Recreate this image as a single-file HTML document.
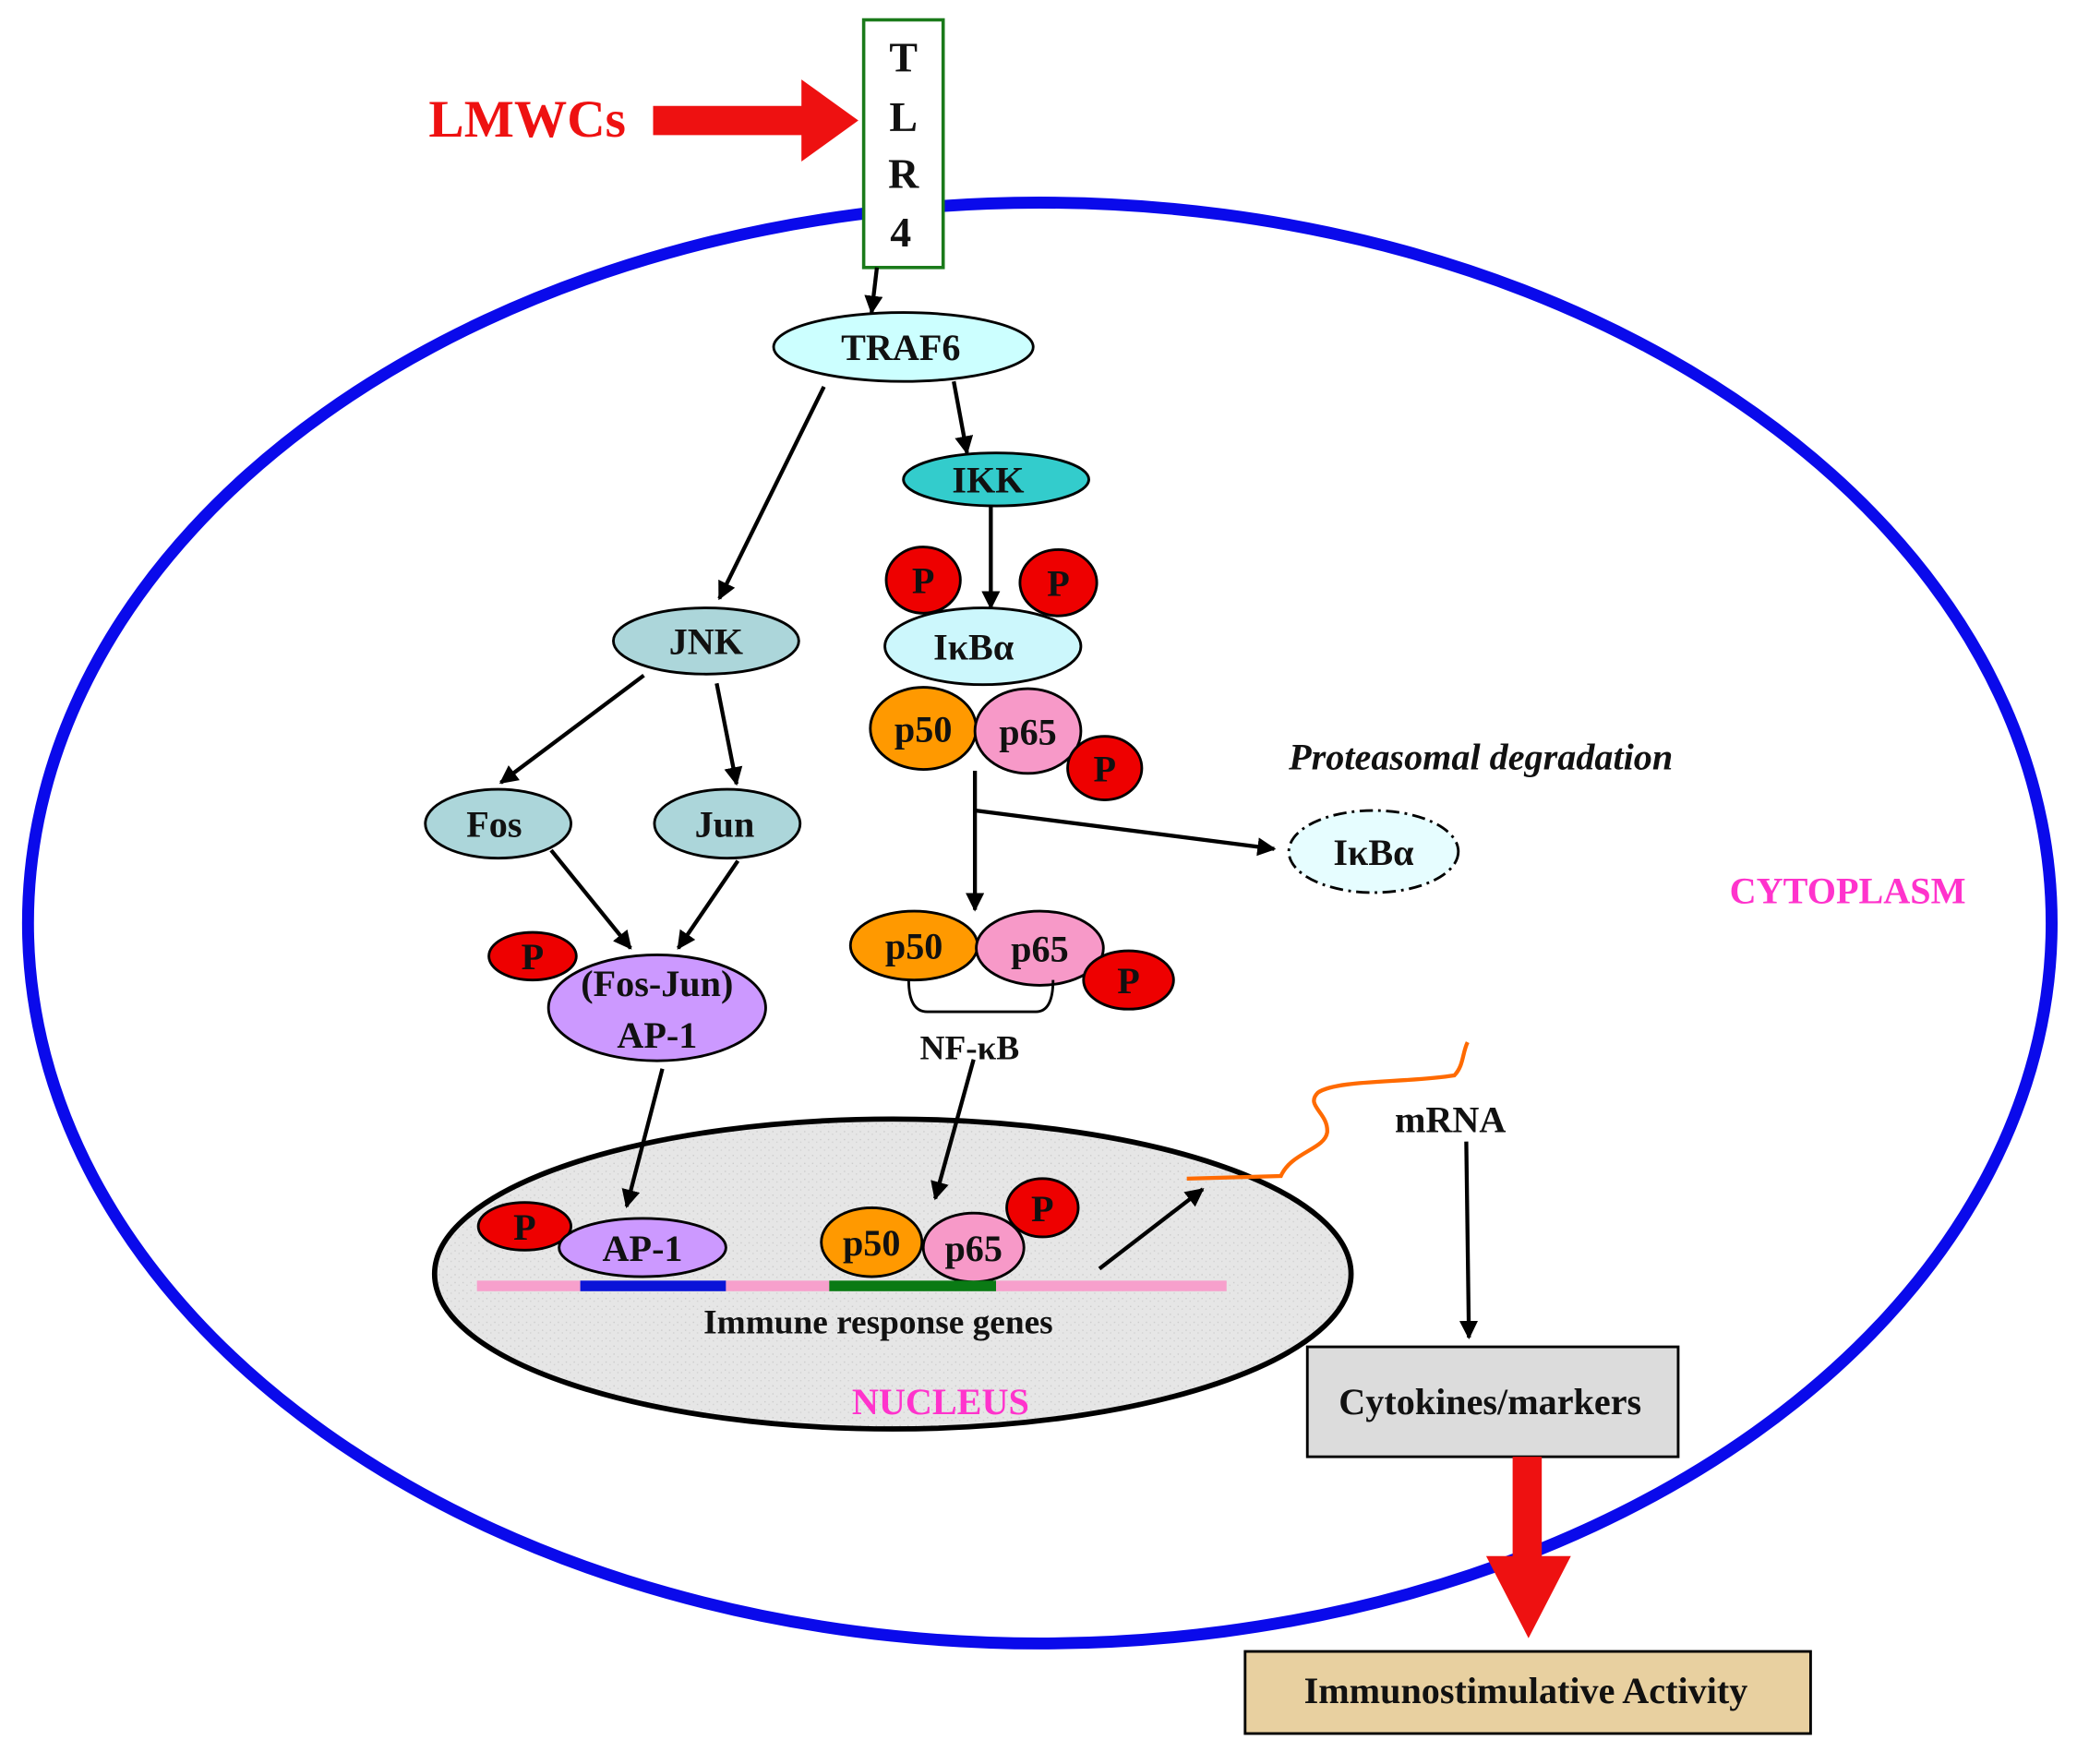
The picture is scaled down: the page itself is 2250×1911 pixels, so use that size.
<!DOCTYPE html>
<html><head><meta charset="utf-8"><style>
html,body{margin:0;padding:0;background:#fff;}
svg{display:block;}
text{font-family:"Liberation Serif",serif;font-weight:bold;fill:#111;text-anchor:middle;}
</style></head><body>
<svg width="2250" height="1911" viewBox="0 0 1568 1332" xmlns="http://www.w3.org/2000/svg">
<defs>
<marker id="a" viewBox="0 0 10 10" refX="9" refY="5" markerWidth="14" markerHeight="14" markerUnits="userSpaceOnUse" orient="auto"><path d="M0,0 L10,5 L0,10 z" fill="#000"/></marker>
<pattern id="tex" width="6" height="6" patternUnits="userSpaceOnUse"><rect width="6" height="6" fill="#e6e6e6"/><rect x="1" y="2" width="1" height="1" fill="#ccc"/><rect x="4" y="4" width="1" height="1" fill="#d2d2d2"/></pattern>
</defs>
<ellipse cx="785" cy="697" rx="764" ry="544" fill="none" stroke="#0a0aeb" stroke-width="9"/>
<text x="398" y="103" font-size="40" style="fill:#ee1111">LMWCs</text>
<polygon points="493,80 605,80 605,60 648,91 605,122 605,102 493,102" fill="#ee1111"/>
<rect x="652" y="15" width="60" height="187" fill="#fff" stroke="#1a7a1a" stroke-width="2.5"/>
<text x="682" y="54" font-size="32">T</text>
<text x="682" y="99" font-size="32">L</text>
<text x="682" y="142" font-size="32">R</text>
<text x="680" y="186" font-size="32">4</text>
<g stroke="#000" stroke-width="3" fill="none">
<line x1="662" y1="202" x2="658" y2="236" marker-end="url(#a)"/>
<line x1="720" y1="288" x2="730" y2="342" marker-end="url(#a)"/>
<line x1="622" y1="292" x2="543" y2="452" marker-end="url(#a)"/>
<line x1="486" y1="510" x2="378" y2="591" marker-end="url(#a)"/>
<line x1="541" y1="516" x2="556" y2="592" marker-end="url(#a)"/>
<line x1="416" y1="642" x2="476" y2="716" marker-end="url(#a)"/>
<line x1="557" y1="650" x2="512" y2="716" marker-end="url(#a)"/>
<line x1="748" y1="382" x2="748" y2="459" marker-end="url(#a)"/>
<line x1="736" y1="582" x2="736" y2="687" marker-end="url(#a)"/>
<line x1="736" y1="612" x2="962" y2="641" marker-end="url(#a)"/>
<line x1="1107" y1="862" x2="1109" y2="1010" marker-end="url(#a)"/>
</g>
<ellipse cx="682" cy="262" rx="98" ry="26" fill="#ccffff" stroke="#000" stroke-width="2"/>
<text x="680" y="272" font-size="28">TRAF6</text>
<ellipse cx="752" cy="362" rx="70" ry="20" fill="#33cccc" stroke="#000" stroke-width="2"/>
<text x="746" y="372" font-size="28">IKK</text>
<ellipse cx="533" cy="484" rx="70" ry="25" fill="#acd6da" stroke="#000" stroke-width="2"/>
<text x="533" y="494" font-size="28">JNK</text>
<ellipse cx="376" cy="622" rx="55" ry="26" fill="#acd6da" stroke="#000" stroke-width="2"/>
<text x="373" y="632" font-size="28">Fos</text>
<ellipse cx="549" cy="622" rx="55" ry="26" fill="#acd6da" stroke="#000" stroke-width="2"/>
<text x="547" y="632" font-size="28">Jun</text>
<ellipse cx="496" cy="761" rx="82" ry="40" fill="#cc99ff" stroke="#000" stroke-width="2"/>
<text x="496" y="752" font-size="28">(Fos-Jun)</text>
<text x="496" y="791" font-size="28">AP-1</text>
<ellipse cx="402" cy="722" rx="33" ry="18" fill="#ee0000" stroke="#000" stroke-width="2"/>
<text x="402" y="732" font-size="28">P</text>
<ellipse cx="697" cy="438" rx="28" ry="25" fill="#ee0000" stroke="#000" stroke-width="2"/>
<text x="697" y="448" font-size="28">P</text>
<ellipse cx="799" cy="440" rx="29" ry="25" fill="#ee0000" stroke="#000" stroke-width="2"/>
<text x="799" y="450" font-size="28">P</text>
<ellipse cx="742" cy="488" rx="74" ry="29" fill="#ccf7fc" stroke="#000" stroke-width="2"/>
<text x="735" y="498" font-size="28">IκBα</text>
<ellipse cx="697" cy="550" rx="40" ry="31" fill="#ff9900" stroke="#000" stroke-width="2"/>
<text x="697" y="560" font-size="28">p50</text>
<ellipse cx="776" cy="552" rx="40" ry="32" fill="#f799c8" stroke="#000" stroke-width="2"/>
<text x="776" y="562" font-size="28">p65</text>
<ellipse cx="834" cy="580" rx="28" ry="24" fill="#ee0000" stroke="#000" stroke-width="2"/>
<text x="834" y="590" font-size="28">P</text>
<text x="1118" y="581" font-size="28" font-style="italic">Proteasomal degradation</text>
<ellipse cx="1037" cy="643" rx="64" ry="31" fill="#e6fdff" stroke="#000" stroke-width="2" stroke-dasharray="10,4,2,4"/>
<text x="1037" y="653" font-size="28">IκBα</text>
<text x="1395" y="682" font-size="28" style="fill:#ff33cc">CYTOPLASM</text>
<ellipse cx="690" cy="714" rx="48" ry="26" fill="#ff9900" stroke="#000" stroke-width="2"/>
<text x="690" y="724" font-size="28">p50</text>
<ellipse cx="785" cy="716" rx="48" ry="28" fill="#f799c8" stroke="#000" stroke-width="2"/>
<text x="785" y="726" font-size="28">p65</text>
<ellipse cx="852" cy="740" rx="34" ry="22" fill="#ee0000" stroke="#000" stroke-width="2"/>
<text x="852" y="750" font-size="28">P</text>
<path d="M686,740 Q686,764 700,764 L782,764 Q795,764 795,740" fill="none" stroke="#000" stroke-width="2"/>
<text x="732" y="800" font-size="26">NF-κB</text>
<ellipse cx="674" cy="962" rx="346" ry="117" fill="url(#tex)" stroke="#000" stroke-width="4"/>
<g stroke="#000" stroke-width="3" fill="none">
<line x1="500" y1="807" x2="473" y2="911" marker-end="url(#a)"/>
<line x1="735" y1="800" x2="706" y2="905" marker-end="url(#a)"/>
<line x1="830" y1="958" x2="908" y2="898" marker-end="url(#a)"/>
</g>
<ellipse cx="396" cy="926" rx="35" ry="18" fill="#ee0000" stroke="#000" stroke-width="2"/>
<text x="396" y="936" font-size="28">P</text>
<ellipse cx="485" cy="942" rx="63" ry="22" fill="#cc99ff" stroke="#000" stroke-width="2"/>
<text x="485" y="952" font-size="28">AP-1</text>
<ellipse cx="787" cy="912" rx="27" ry="22" fill="#ee0000" stroke="#000" stroke-width="2"/>
<text x="787" y="922" font-size="28">P</text>
<ellipse cx="658" cy="938" rx="38" ry="26" fill="#ff9900" stroke="#000" stroke-width="2"/>
<text x="658" y="948" font-size="28">p50</text>
<ellipse cx="735" cy="942" rx="38" ry="26" fill="#f799c8" stroke="#000" stroke-width="2"/>
<text x="735" y="952" font-size="28">p65</text>
<rect x="360" y="967" width="78" height="8" fill="#f7a0cc"/>
<rect x="438" y="967" width="110" height="8" fill="#0a14d8"/>
<rect x="548" y="967" width="78" height="8" fill="#f7a0cc"/>
<rect x="626" y="967" width="126" height="8" fill="#0a7a14"/>
<rect x="752" y="967" width="174" height="8" fill="#f7a0cc"/>
<text x="663" y="1007" font-size="26">Immune response genes</text>
<text x="710" y="1068" font-size="28" style="fill:#ff33cc">NUCLEUS</text>
<path d="M896,890 L967,888 C975,870 1000,868 1002,855 C1003,840 985,835 995,825 C1010,815 1060,818 1098,812 C1105,805 1104,795 1108,787" fill="none" stroke="#ff6a00" stroke-width="3"/>
<text x="1095" y="855" font-size="28">mRNA</text>
<rect x="987" y="1017" width="280" height="83" fill="#dcdcdc" stroke="#000" stroke-width="2"/>
<text x="1125" y="1068" font-size="28">Cytokines/markers</text>
<polygon points="1142,1100 1164,1100 1164,1175 1186,1175 1154,1237 1122,1175 1142,1175" fill="#ee1111"/>
<rect x="940" y="1247" width="427" height="62" fill="#e8d0a0" stroke="#000" stroke-width="2"/>
<text x="1152" y="1286" font-size="28">Immunostimulative Activity</text>
</svg>
</body></html>
